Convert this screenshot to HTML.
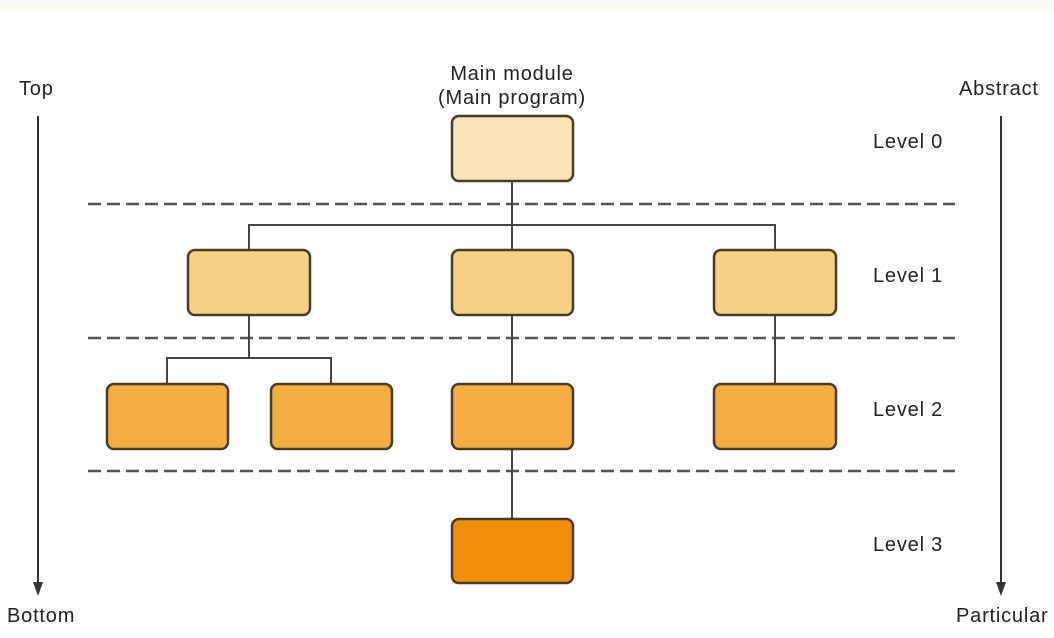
<!DOCTYPE html>
<html><head><meta charset="utf-8"><style>
html,body{margin:0;padding:0;background:#fff;}
svg{display:block;}
text{font-family:"Liberation Sans",sans-serif;font-size:20px;letter-spacing:0.8px;fill:#222;}
</style></head><body>
<svg width="1054" height="638" viewBox="0 0 1054 638">
<rect x="0" y="0" width="1054" height="12" fill="#fbfbf6"/>
<g stroke="#555" stroke-width="2.5" stroke-dasharray="13,6" fill="none">
<line x1="88" y1="204" x2="955" y2="204"/>
<line x1="88" y1="338" x2="955" y2="338"/>
<line x1="88" y1="471" x2="955" y2="471"/>
</g>
<g stroke="#444" stroke-width="2" fill="none">
<line x1="512" y1="181" x2="512" y2="519"/>
<polyline points="249,250 249,225 775,225 775,250"/>
<line x1="249" y1="315" x2="249" y2="358"/>
<polyline points="167,384 167,358 331,358 331,384"/>
<line x1="775" y1="315" x2="775" y2="384"/>
</g>
<g stroke="#4a3a28" stroke-width="2.5">
<rect x="452" y="116" width="121" height="65" rx="7" fill="#fbe3b8"/>
<rect x="188" y="250" width="122" height="65" rx="7" fill="#f8cf87"/>
<rect x="452" y="250" width="121" height="65" rx="7" fill="#f8cf87"/>
<rect x="714" y="250" width="122" height="65" rx="7" fill="#f8cf87"/>
<rect x="107" y="384" width="121" height="65" rx="7" fill="#f3ad42"/>
<rect x="271" y="384" width="121" height="65" rx="7" fill="#f3ad42"/>
<rect x="452" y="384" width="121" height="65" rx="7" fill="#f3ad42"/>
<rect x="714" y="384" width="122" height="65" rx="7" fill="#f3ad42"/>
<rect x="452" y="519" width="121" height="64" rx="7" fill="#f08f0c"/>
</g>
<g stroke="#333" stroke-width="2">
<line x1="38" y1="116" x2="38" y2="584"/>
<line x1="1001" y1="116" x2="1001" y2="584"/>
</g>
<path d="M33,582 L43,582 L38,596 z" fill="#333"/>
<path d="M996,582 L1006,582 L1001,596 z" fill="#333"/>
<text x="512" y="80" text-anchor="middle">Main module</text>
<text x="512" y="104" text-anchor="middle">(Main program)</text>
<text x="19" y="95">Top</text>
<text x="7" y="622">Bottom</text>
<text x="959" y="95">Abstract</text>
<text x="956" y="622">Particular</text>
<text x="873" y="148">Level 0</text>
<text x="873" y="282">Level 1</text>
<text x="873" y="416">Level 2</text>
<text x="873" y="551">Level 3</text>
</svg>
</body></html>
